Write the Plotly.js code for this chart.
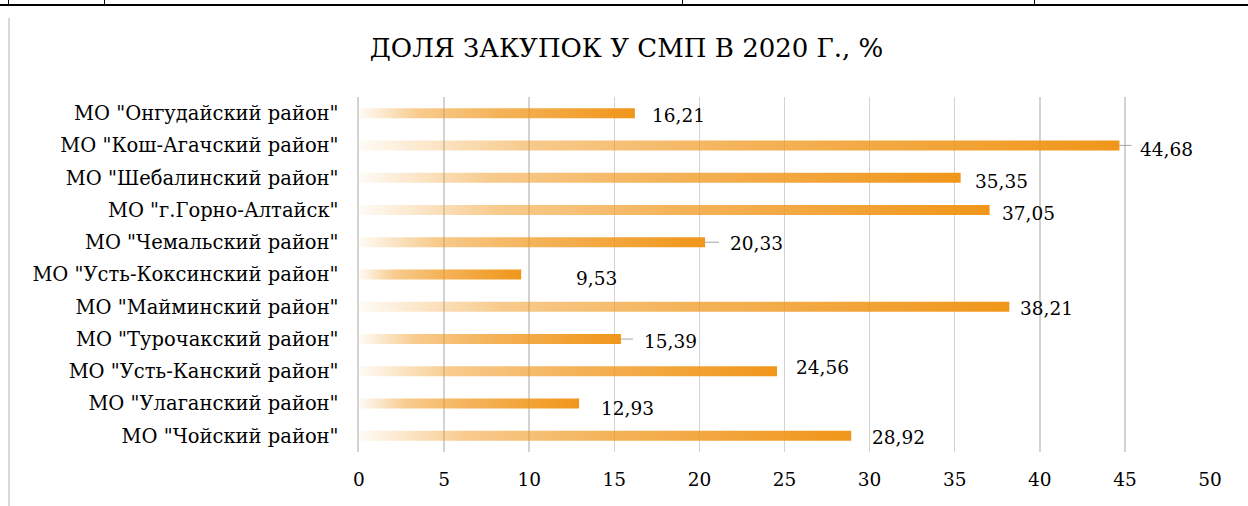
<!DOCTYPE html>
<html>
<head>
<meta charset="utf-8">
<script src="https://cdn.plot.ly/plotly-3.0.1.min.js"></script>
<style>
  html, body { margin: 0; padding: 0; background: #fff; }
  #wrap { position: relative; width: 1248px; height: 506px; overflow: hidden; }
  #chart { position: absolute; left: 0; top: 0; width: 1248px; height: 506px; }
  .ln { position: absolute; background: #000; }
</style>
</head>
<body>
<div id="wrap">
  <div id="chart"></div>
  <div class="ln" style="left:0;top:4px;width:1248px;height:2px;"></div>
  <div class="ln" style="left:8px;top:0;width:1px;height:5px;"></div>
  <div class="ln" style="left:104px;top:0;width:1px;height:5px;"></div>
  <div class="ln" style="left:682px;top:0;width:1px;height:5px;"></div>
  <div class="ln" style="left:1034px;top:0;width:1px;height:5px;"></div>
  <div style="position:absolute;left:8px;top:18px;width:2px;height:488px;background:#d9d9d9;"></div>
</div>
<script>
// ---- data ----
const categories = [
  'МО "Онгудайский район"',
  'МО "Кош-Агачский район"',
  'МО "Шебалинский район"',
  'МО "г.Горно-Алтайск"',
  'МО "Чемальский район"',
  'МО "Усть-Коксинский район"',
  'МО "Майминский район"',
  'МО "Турочакский район"',
  'МО "Усть-Канский район"',
  'МО "Улаганский район"',
  'МО "Чойский район"'
];
const shares = [16.21, 44.68, 35.35, 37.05, 20.33, 9.53, 38.21, 15.39, 24.56, 12.93, 28.92];
const valueLabels = ['16,21', '44,68', '35,35', '37,05', '20,33', '9,53', '38,21', '15,39', '24,56', '12,93', '28,92'];
const xTicks = [0, 5, 10, 15, 20, 25, 30, 35, 40, 45, 50];

// ---- label placement (styling, px) ----
const labelShiftX = [15, 19, 12, 10, 23, 53, 9, 21, 17, 20, 19];
const labelShiftY = [-2, -4, -4, -4, -1, -4, -2, -2, 4, -5, -2];
const leaderLen   = [0, 12, 0, 0, 14, 0, 0, 12, 0, 0, 0];

const fam = '"DejaVu Serif", serif';

const trace = {
  type: 'bar',
  orientation: 'h',
  y: categories,
  x: shares,
  width: 0.31,
  marker: { color: '#f0961a', line: { width: 0 } },
  hoverinfo: 'skip'
};

const annotations = categories.map((c, i) => ({
  x: shares[i], y: c, xref: 'x', yref: 'y',
  text: valueLabels[i], showarrow: false,
  xanchor: 'left', yanchor: 'middle',
  xshift: labelShiftX[i], yshift: labelShiftY[i],
  font: { family: fam, size: 18.5, color: '#000' }
}));

const shapes = [];
categories.forEach((c, i) => {
  if (leaderLen[i] > 0) {
    shapes.push({
      type: 'line', xref: 'x', yref: 'y',
      xsizemode: 'pixel', xanchor: shares[i],
      x0: 0, x1: leaderLen[i], y0: c, y1: c,
      line: { color: '#a6a6a6', width: 1 }
    });
  }
});

const layout = {
  width: 1248, height: 506,
  margin: { l: 359, r: 38, t: 97, b: 54 },
  paper_bgcolor: 'rgba(0,0,0,0)',
  plot_bgcolor: 'rgba(0,0,0,0)',
  showlegend: false,
  font: { family: fam },
  title: {
    text: 'ДОЛЯ ЗАКУПОК У СМП В 2020 Г., %',
    x: 0.502, xanchor: 'center', y: 0.905, yanchor: 'middle',
    font: { family: fam, size: 26, color: '#000' }
  },
  xaxis: {
    range: [0, 50], tickvals: xTicks, ticktext: xTicks.map(String),
    showgrid: true, gridcolor: '#d3d3d3', gridwidth: 1.5,
    zeroline: false, showline: false, ticks: '',
    ticklabelstandoff: 14,
    tickfont: { family: fam, size: 18.5, color: '#000' },
    fixedrange: true
  },
  yaxis: {
    type: 'category', autorange: 'reversed',
    showgrid: false, zeroline: false, ticks: '',
    showline: true, linecolor: '#d3d3d3', linewidth: 2.5,
    ticklabelstandoff: 14,
    tickfont: { family: fam, size: 19.5, color: '#000' },
    fixedrange: true
  },
  annotations: annotations,
  shapes: shapes
};

Plotly.newPlot('chart', [trace], layout, { staticPlot: true, displayModeBar: false }).then(gd => {
  const svgNS = 'http://www.w3.org/2000/svg';
  const svg = gd.querySelector('.main-svg');
  let defs = svg.querySelector('defs');
  if (!defs) { defs = document.createElementNS(svgNS, 'defs'); svg.insertBefore(defs, svg.firstChild); }
  const grad = document.createElementNS(svgNS, 'linearGradient');
  grad.setAttribute('id', 'barGrad');
  grad.setAttribute('x1', '0'); grad.setAttribute('x2', '1');
  grad.setAttribute('y1', '0'); grad.setAttribute('y2', '0');
  [[0, 0.04], [0.22, 0.5], [0.5, 0.72], [1, 1]].forEach(([o, a]) => {
    const s = document.createElementNS(svgNS, 'stop');
    s.setAttribute('offset', o);
    s.setAttribute('stop-color', '#f0961a');
    s.setAttribute('stop-opacity', a);
    grad.appendChild(s);
  });
  defs.appendChild(grad);
  gd.querySelectorAll('.barlayer .point path').forEach(p => { p.style.fill = 'url(#barGrad)'; });
});
</script>
</body>
</html>
